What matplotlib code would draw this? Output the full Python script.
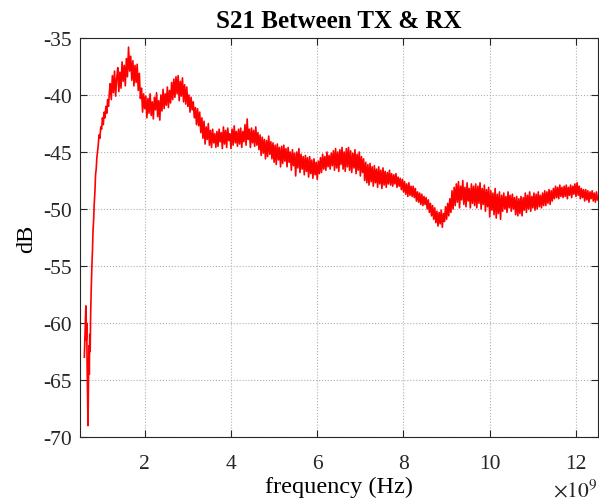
import numpy as np
import matplotlib
matplotlib.use("Agg")
import matplotlib.pyplot as plt
from matplotlib.ticker import FuncFormatter

plt.rcParams['font.family'] = ['Liberation Serif', 'DejaVu Serif']
plt.rcParams['mathtext.fontset'] = 'stix'

# low-frequency part of the sweep (GHz, dB)
f_low = [0.60, 0.62, 0.635, 0.645, 0.655, 0.665, 0.675, 0.685, 0.695, 0.705,
         0.715, 0.725, 0.735, 0.745, 0.76, 0.775, 0.79, 0.80, 0.815, 0.83,
         0.845, 0.86, 0.875, 0.89, 0.905, 0.92, 0.94, 0.96, 0.98, 1.00,
         1.02, 1.04, 1.06, 1.08, 1.10, 1.12, 1.14, 1.16, 1.18]
s21_low = [-63.0, -60.5, -58.5, -61.5, -60.0, -64.0, -66.5, -69.0, -65.0, -62.0,
           -64.5, -61.0, -62.5, -59.5, -57.0, -55.0, -53.5, -52.0, -51.0, -49.5,
           -48.5, -47.0, -46.5, -45.5, -45.0, -44.5, -43.5, -43.8, -42.8, -43.0,
           -42.0, -42.6, -41.5, -42.0, -41.0, -41.6, -40.4, -41.0, -39.8]

# 1.200 GHz .. 12.500 GHz, 25 MHz steps (one row = 0.5 GHz)
s21_high = [
    -39.0, -40.4, -38.3, -39.8, -37.9, -40.1, -38.6, -37.6, -39.7, -38.0,
    -39.4, -37.1, -38.8, -37.4, -39.2, -36.8, -38.4, -35.8, -37.9, -36.6,
    -38.7, -37.0, -39.2, -37.4, -38.9, -37.3, -39.6, -38.1, -40.3, -39.4,
    -41.5, -39.9, -41.2, -40.1, -42.0, -40.3, -41.6, -39.9, -41.8, -40.6,
    -42.1, -40.2, -41.3, -39.8, -41.9, -40.5, -42.2, -40.0, -41.4, -39.5,
    -41.2, -39.9, -40.9, -39.3, -41.1, -39.6, -40.7, -38.9, -40.4, -38.6,
    -40.2, -38.4, -39.9, -38.3, -40.5, -38.8, -40.1, -38.5, -40.6, -39.1,
    -40.8, -39.3, -41.0, -40.0, -41.5, -40.2, -41.3, -40.6, -42.0, -41.1,
    -42.6, -41.2, -42.7, -41.5, -43.3, -42.0, -43.8, -42.3, -44.3, -42.8,
    -43.9, -42.5, -44.4, -43.1, -44.6, -43.0, -44.2, -43.4, -44.6, -43.2,
    -44.5, -43.0, -44.1, -43.3, -44.7, -42.8, -44.3, -43.1, -44.6, -42.9,
    -44.0, -43.4, -44.7, -43.0, -44.4, -42.7, -44.2, -43.2, -44.5, -43.0,
    -44.3, -42.9, -44.6, -43.2, -44.1, -42.6, -44.4, -42.1, -43.9, -43.0,
    -44.6, -42.9, -44.2, -43.1, -44.5, -42.8, -44.4, -43.3, -44.8, -43.5,
    -45.3, -43.7, -45.1, -43.9, -45.6, -44.0, -45.4, -43.6, -45.2, -44.1,
    -45.6, -44.2, -45.9, -44.4, -46.1, -44.3, -45.7, -44.6, -46.3, -44.5,
    -46.0, -44.4, -45.8, -44.7, -46.3, -44.6, -45.9, -45.0, -46.6, -44.8,
    -46.2, -45.1, -47.1, -45.0, -46.4, -44.7, -46.8, -45.2, -46.5, -45.4,
    -47.0, -45.3, -46.7, -45.5, -47.2, -45.4, -46.9, -45.7, -47.3, -45.6,
    -47.0, -45.9, -47.4, -45.8, -46.9, -45.5, -46.8, -45.2, -46.5, -45.4,
    -46.6, -45.0, -46.3, -45.3, -46.5, -45.1, -46.2, -44.9, -46.6, -44.7,
    -46.4, -45.0, -46.7, -44.8, -46.1, -44.6, -46.5, -45.0, -46.7, -44.7,
    -46.3, -44.6, -46.6, -44.9, -46.8, -45.1, -46.4, -44.8, -46.9, -45.2,
    -46.6, -45.0, -47.1, -45.4, -46.8, -45.6, -47.5, -45.9, -47.7, -46.1,
    -47.9, -46.0, -47.6, -46.3, -48.0, -46.2, -47.7, -46.5, -48.1, -46.3,
    -47.8, -46.6, -48.2, -46.4, -47.9, -46.7, -48.1, -46.8, -47.8, -46.6,
    -47.9, -46.9, -48.0, -47.0, -47.8, -46.9, -48.1, -47.2, -48.0, -47.3,
    -48.3, -47.4, -48.5, -47.6, -48.7, -47.8, -48.9, -47.7, -48.8, -48.0,
    -48.9, -48.0, -49.0, -48.2, -49.3, -48.5, -49.4, -48.6, -49.6, -48.7,
    -49.7, -48.9, -49.6, -49.0, -50.0, -49.2, -50.3, -49.5, -50.6, -49.7,
    -50.9, -49.9, -51.2, -50.2, -51.5, -50.3, -51.3, -50.1, -51.6, -50.4,
    -51.1, -49.8, -50.9, -49.5, -50.6, -49.1, -50.3, -48.4, -50.0, -48.1,
    -49.7, -47.8, -49.4, -47.6, -49.9, -48.0, -49.2, -47.5, -49.6, -48.1,
    -49.8, -47.7, -49.3, -48.2, -49.9, -47.8, -49.5, -48.0, -49.7, -47.8,
    -49.9, -48.0, -49.5, -47.7, -50.0, -48.2, -49.6, -47.9, -50.2, -48.3,
    -49.8, -48.1, -50.7, -48.4, -50.1, -48.6, -50.5, -48.2, -50.8, -48.7,
    -50.4, -48.5, -50.9, -48.8, -50.2, -48.6, -50.0, -48.9, -50.3, -48.5,
    -49.9, -48.8, -50.2, -48.7, -50.0, -49.0, -50.5, -48.9, -50.6, -49.1,
    -50.4, -48.9, -50.6, -49.0, -50.1, -48.6, -50.3, -48.8, -50.0, -48.5,
    -50.2, -48.9, -49.9, -48.6, -50.1, -48.7, -50.0, -48.5, -49.8, -48.8,
    -49.9, -48.6, -49.7, -48.4, -49.7, -48.5, -49.5, -48.3, -49.6, -48.4,
    -49.3, -48.2, -49.1, -48.0, -49.0, -48.1, -49.1, -47.9, -48.9, -48.1,
    -49.0, -48.0, -48.9, -47.9, -49.1, -48.1, -48.8, -47.9, -49.0, -48.0,
    -48.7, -47.8, -48.9, -47.7, -48.8, -48.0, -49.1, -48.2, -49.0, -48.3,
    -49.3, -48.3, -49.2, -48.4, -49.4, -48.5, -49.1, -48.4, -49.3, -48.6,
    -49.4, -48.5, -49.2,
]
f_high = np.linspace(1.20, 12.50, len(s21_high))

freq = np.concatenate([f_low, f_high]) * 1e9
s21 = np.concatenate([s21_low, s21_high])

fig = plt.figure(figsize=(5.99, 5.02), dpi=100)
ax = fig.add_axes([0.1336, 0.1275, 0.8640, 0.7948])

ax.plot(freq, s21, color='#ff0000', linewidth=1.2)

ax.set_xlim(0.5e9, 12.5e9)
ax.set_ylim(-70, -35)
ax.set_xticks(np.arange(2, 13, 2) * 1e9)
ax.set_yticks(np.arange(-70, -34, 5))
ax.xaxis.set_major_formatter(FuncFormatter(lambda v, p: '%d' % round(v / 1e9)))
ax.yaxis.set_major_formatter(FuncFormatter(lambda v, p: '%d' % v))

ax.tick_params(direction='in', top=True, right=True, length=5, width=0.8,
               labelsize=15.5, colors='#262626')
ax.tick_params(axis='y', pad=6)
ax.tick_params(axis='x', pad=12)
for s in ax.spines.values():
    s.set_color('#262626')
    s.set_linewidth(0.8)
ax.grid(True, linestyle=':', color='#b0b0b0', linewidth=0.8)

ax.set_title('S21 Between TX & RX', fontsize=18, fontweight='bold', pad=8)
ax.set_xlabel('frequency (Hz)', fontsize=17.5, labelpad=2)
ax.set_ylabel('dB', fontsize=17.5, labelpad=4)
ax.text(1.0, -0.105, r'$\times 10^{9}$', transform=ax.transAxes,
        ha='right', va='top', fontsize=15.5, color='#262626')

fig.savefig('out.png', dpi=100)
